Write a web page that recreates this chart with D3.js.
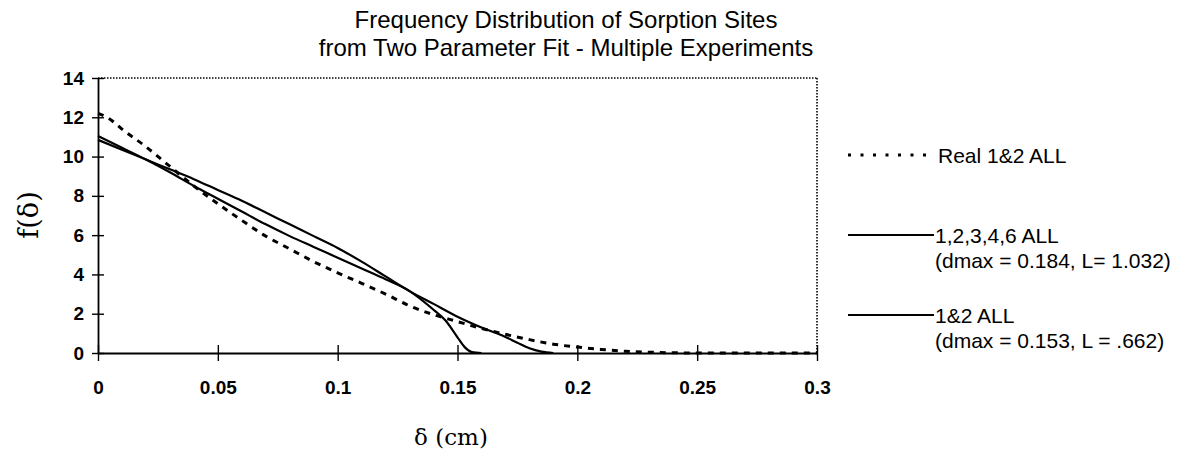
<!DOCTYPE html>
<html>
<head>
<meta charset="utf-8">
<script src="https://cdn.jsdelivr.net/npm/d3@7"></script>
<style>
  body { margin: 0; background: #fff; }
  svg { display: block; }
  text { fill: #000; }
</style>
</head>
<body>
<svg id="chart" width="1199" height="458"></svg>
<script>
// ---- Data ----
const titleLines = ["Frequency Distribution of Sorption Sites", "from Two Parameter Fit - Multiple Experiments"];
const xTicks = [0, 0.05, 0.1, 0.15, 0.2, 0.25, 0.3];
const xTickLabels = ["0", "0.05", "0.1", "0.15", "0.2", "0.25", "0.3"];
const yTicks = [0, 2, 4, 6, 8, 10, 12, 14];

const deltaReal = [0, 0.005, 0.01, 0.02, 0.03, 0.04, 0.05, 0.06, 0.07, 0.08, 0.09, 0.1, 0.11, 0.12, 0.13, 0.14, 0.15, 0.16, 0.17, 0.18, 0.19, 0.2, 0.21, 0.22, 0.23, 0.24, 0.25, 0.3];
const fReal     = [12.2, 11.9, 11.4, 10.5, 9.5, 8.5, 7.6, 6.75, 5.95, 5.3, 4.65, 4.08, 3.55, 3.0, 2.4, 1.95, 1.6, 1.25, 0.95, 0.68, 0.45, 0.3, 0.18, 0.09, 0.04, 0.01, 0, 0];

const deltaFit5 = [0, 0.01, 0.02, 0.03, 0.04, 0.05, 0.06, 0.07, 0.08, 0.09, 0.1, 0.11, 0.12, 0.13, 0.14, 0.15, 0.16, 0.17, 0.175, 0.18, 0.185, 0.19];
const fFit5     = [10.85, 10.35, 9.85, 9.35, 8.85, 8.3, 7.75, 7.15, 6.55, 5.95, 5.35, 4.65, 3.9, 3.15, 2.5, 1.85, 1.3, 0.82, 0.52, 0.24, 0.07, 0];

const deltaFit2 = [0, 0.01, 0.02, 0.03, 0.04, 0.05, 0.06, 0.07, 0.08, 0.09, 0.1, 0.11, 0.12, 0.13, 0.14, 0.145, 0.15, 0.153, 0.156, 0.16];
const fFit2     = [11.05, 10.45, 9.85, 9.2, 8.5, 7.85, 7.2, 6.55, 5.95, 5.4, 4.85, 4.3, 3.75, 3.15, 2.2, 1.65, 0.8, 0.3, 0.05, 0];

const legendLabels = ["Real 1&2 ALL", "1,2,3,4,6 ALL", "1&2 ALL"];
const legendNotes = ["", "(dmax = 0.184, L= 1.032)", "(dmax = 0.153, L = .662)"];

// ---- Layout ----
const svg = d3.select("#chart");
const mLeft = 98, mRight = 817, mTop = 78, mBottom = 353;
const x = d3.scaleLinear().domain([0, 0.3]).range([mLeft, mRight]);
const y = d3.scaleLinear().domain([0, 14]).range([mBottom, mTop]);
const sans = "'Liberation Sans', Arial, sans-serif";
const serif = "'DejaVu Serif', 'Liberation Serif', serif";

// Title
svg.append("g").selectAll("text").data(titleLines).join("text")
  .attr("x", 566).attr("y", (d, i) => 28 + i * 28)
  .attr("text-anchor", "middle")
  .style("font-family", sans).style("font-size", "24px")
  .text(d => d);

// Frame: dotted top and right borders
svg.append("line").attr("x1", mLeft).attr("x2", mRight).attr("y1", mTop).attr("y2", mTop)
  .attr("stroke", "#000").attr("stroke-width", 1.6).attr("stroke-dasharray", "1.5,1.5");
svg.append("line").attr("x1", mRight).attr("x2", mRight).attr("y1", mTop).attr("y2", mBottom)
  .attr("stroke", "#000").attr("stroke-width", 1.6).attr("stroke-dasharray", "1.5,1.5");

// Axes
const xAxis = d3.axisBottom(x).tickValues(xTicks).tickFormat((d, i) => xTickLabels[i])
  .tickSizeInner(8).tickSizeOuter(0).tickPadding(20);
const gx = svg.append("g").attr("transform", `translate(0,${mBottom})`).call(xAxis);
gx.select(".domain").attr("stroke-width", 1.8);
gx.selectAll(".tick line").attr("y1", -8).attr("stroke-width", 1.4);
gx.selectAll("text").style("font-family", sans).style("font-size", "19px").style("font-weight", "bold");

const yAxis = d3.axisLeft(y).tickValues(yTicks).tickSizeInner(6).tickSizeOuter(0).tickPadding(8);
const gy = svg.append("g").attr("transform", `translate(${mLeft},0)`).call(yAxis);
gy.select(".domain").attr("stroke-width", 1.8);
gy.selectAll(".tick line").attr("x2", 6).attr("x1", -6).attr("stroke-width", 1.4);
gy.selectAll("text").style("font-family", sans).style("font-size", "19px").style("font-weight", "bold");

// Axis titles
svg.append("text").attr("transform", "translate(38,215) rotate(-90)")
  .attr("text-anchor", "middle").style("font-family", serif).style("font-size", "27px")
  .text("f(δ)");
svg.append("text").attr("x", 451).attr("y", 445)
  .attr("text-anchor", "middle").style("font-family", serif).style("font-size", "23px")
  .text("δ (cm)");

// Lines
const line = d3.line().x(d => x(d[0])).y(d => y(d[1])).curve(d3.curveMonotoneX);
const plotG = svg.append("g");
plotG.append("path").datum(d3.zip(deltaFit5, fFit5)).attr("d", line)
  .attr("fill", "none").attr("stroke", "#000").attr("stroke-width", 2.2);
plotG.append("path").datum(d3.zip(deltaFit2, fFit2)).attr("d", line)
  .attr("fill", "none").attr("stroke", "#000").attr("stroke-width", 2.2);
plotG.append("path").datum(d3.zip(deltaReal, fReal)).attr("d", line)
  .attr("fill", "none").attr("stroke", "#000").attr("stroke-width", 3)
  .attr("stroke-dasharray", "6,6");

// Legend
const legY = [155, 235, 315];
const lg = svg.append("g");
legendLabels.forEach((lab, i) => {
  lg.append("line").attr("x1", 848).attr("x2", i === 0 ? 928 : 934)
    .attr("y1", legY[i]).attr("y2", legY[i])
    .attr("stroke", "#000").attr("stroke-width", i === 0 ? 3 : 2)
    .attr("stroke-dasharray", i === 0 ? "3,9.5" : null);
  lg.append("text").attr("x", i === 0 ? 938 : 935).attr("y", legY[i] + 7.5)
    .style("font-family", sans).style("font-size", "21px").text(lab);
  if (legendNotes[i]) {
    lg.append("text").attr("x", 935).attr("y", legY[i] + 33)
      .style("font-family", sans).style("font-size", "21px").text(legendNotes[i]);
  }
});
</script>
</body>
</html>
